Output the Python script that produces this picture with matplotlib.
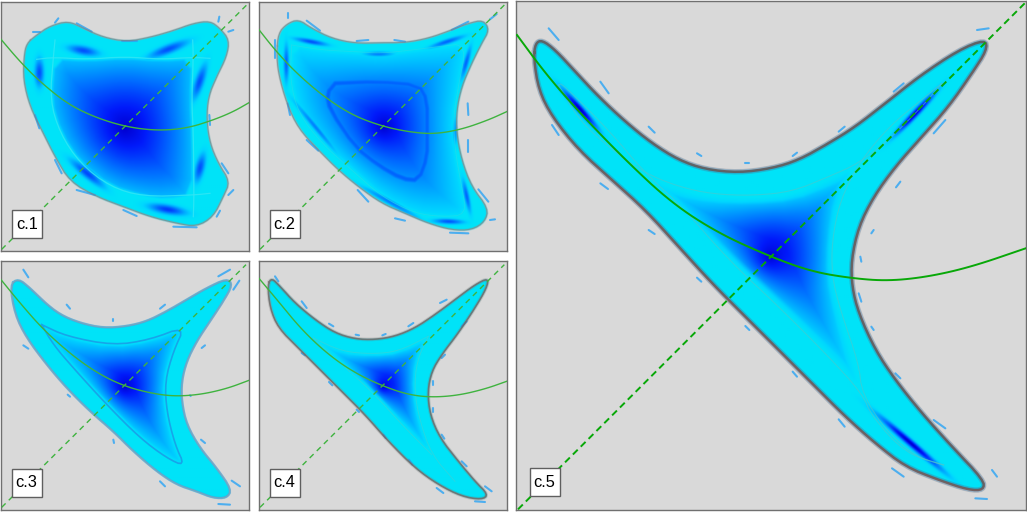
import numpy as np
import matplotlib
matplotlib.use("Agg")
import matplotlib.pyplot as plt
from matplotlib.colors import LinearSegmentedColormap
from matplotlib.path import Path
from matplotlib.patches import Rectangle

plt.rcParams['font.family'] = ['Liberation Sans', 'DejaVu Sans']

labels = ["c.1", "c.2", "c.3", "c.4", "c.5"]
hubs = [(375, 385), (385, 380), (375, 385), (385, 385), (775, 770)]

outline_1 = [(80,130),(110,105),(150,78),(205,63),(250,85),(310,112),(380,125),(450,112),(520,92),(580,70),(630,63),(660,85),(688,120),(680,170),(650,230),(625,290),(620,360),(630,430),(655,490),(690,545),(670,590),(640,650),(590,680),(530,670),(450,650),(370,620),(290,590),(210,545),(165,470),(130,400),(90,320),(70,240),(72,170)]
outline_2 = [(65,160),(70,100),(95,72),(130,58),(170,85),(230,115),(300,130),(380,128),(450,128),(520,115),(590,90),(640,70),(685,60),(703,90),(680,130),(650,190),(620,260),(605,330),(605,400),(620,480),(650,560),(700,625),(690,665),(650,690),(590,690),(520,670),(450,640),(380,610),(310,560),(250,510),(190,450),(130,385),(95,310),(70,220)]
outline_3 = [(30,80),(55,62),(90,90),(130,130),(180,170),(240,195),(310,210),(380,205),(440,190),(500,160),(560,125),(620,90),(680,62),(698,80),(670,130),(630,190),(590,250),(560,310),(545,370),(545,430),(560,500),(600,570),(650,630),(695,695),(680,720),(640,720),(590,700),(530,680),(470,640),(400,580),(340,520),(270,460),(200,390),(140,320),(80,240),(45,170)]
outline_4 = [(38,80),(50,60),(75,85),(120,135),(180,185),(240,225),(300,243),(360,245),(420,235),(480,210),(540,170),(600,125),(660,80),(700,60),(695,90),(660,150),(610,225),(560,290),(530,340),(518,400),(525,470),(555,540),(610,610),(660,670),(700,710),(680,725),(620,715),(550,680),(480,630),(400,550),(330,470),(260,400),(190,330),(130,270),(70,210),(45,150)]
outline_5 = [(65,175),(70,130),(90,120),(130,150),(190,215),(260,290),(340,365),(420,430),(500,480),(580,508),(680,518),(780,505),(860,480),(950,430),(1030,380),(1120,310),(1220,230),(1340,150),(1420,118),(1425,150),(1380,220),(1310,320),(1230,410),(1150,500),(1085,590),(1040,680),(1018,780),(1020,860),(1040,940),(1090,1050),(1150,1140),(1230,1240),(1320,1340),(1415,1440),(1415,1470),(1370,1470),(1280,1440),(1180,1400),(1090,1330),(1000,1250),(900,1150),(800,1050),(700,950),(600,850),(500,740),(400,630),(300,540),(200,450),(120,350),(80,270)]

inner_1 = [(160,172),(260,178),(375,170),(480,178),(580,172),(575,300),(580,400),(582,585),(500,600),(430,590),(330,560),(240,490),(180,400),(150,300)]
inner_2 = [(110,135),(200,150),(300,155),(380,160),(470,150),(550,140),(635,130),(610,260),(595,350),(600,450),(620,560),(635,645),(560,650),(480,640),(380,590),(290,510),(200,430),(130,340),(105,240)]
inner_3 = [(125,200),(200,235),(340,262),(450,245),(555,205),(520,280),(495,370),(500,460),(525,560),(555,625),(500,600),(420,540),(320,440),(220,330),(160,260)]
inner_4 = [(175,240),(260,280),(350,288),(430,280),(520,235),(485,310),(478,400),(495,490),(530,590),(450,510),(350,400),(260,320)]
inner_5 = [(400,530),(500,570),(600,590),(720,595),(840,585),(950,540),(1030,500),(985,600),(965,720),(962,830),(985,940),(1030,1100),(1045,1170),(950,1070),(800,920),(650,780),(510,640)]

ridge_1 = [[(110,178),(160,172),(260,178),(375,170),(480,178),(580,172),(630,175)],
           [(578,120),(580,172),(575,300),(580,400),(582,585),(580,650)],
           [(165,120),(160,172),(150,300),(180,400),(240,490),(330,560),(430,590),(582,585),(630,580)]]
ridge_2 = [[(110,135),(200,150),(300,155),(380,160),(470,150),(550,140),(635,130),(610,260),(595,350),(600,450),(620,560),(635,645),(560,650),(480,640),(380,590),(290,510),(200,430),(130,340),(105,240),(110,135)]]
ridge_3 = [[(125,200),(200,235),(340,262),(450,245),(555,205),(520,280),(495,370),(500,460),(525,560),(555,625),(500,600),(420,540),(320,440),(220,330),(160,260),(125,200)]]
ridge_4 = [[(175,240),(260,280),(350,288),(430,280),(520,235)],
           [(520,235),(485,310),(478,400),(495,490),(530,590),(600,670)],
           [(175,240),(260,320),(350,400),(450,510),(530,590)]]
ridge_5 = [[(140,255),(200,360),(300,450),(400,520),(500,560),(600,582),(720,587),(840,575),(950,530),(1040,490),(1130,420),(1230,320),(1290,250)],
           [(1290,250),(1240,290),(1130,380),(1040,490),(985,600),(960,720),(960,830),(985,930),(1040,1090),(1050,1180),(1120,1290),(1210,1370),(1295,1395)],
           [(1295,1395),(1180,1360),(1080,1250),(1050,1180),(950,1070),(800,920),(650,780),(510,620),(400,520),(290,390),(150,250),(140,255)]]

middle_2 = [(240,250),(365,245),(490,255),(515,300),(515,400),(515,470),(490,540),(440,535),(370,495),(300,440),(225,330),(215,280),(240,250)]

# Dark streaks: start x, start y, end x, end y, peak level
streak_1 = [(215,145,285,158,.62),(460,165,550,130,.62),(118,185,118,250,.62),(612,205,585,285,.62),(608,470,592,535,.62),(225,490,300,550,.65),(460,620,545,635,.7)]
streak_2 = [(130,118,205,132,.62),(335,162,405,162,.45),(535,138,615,112,.55),(643,150,622,225,.55),(600,360,600,425,.35),(626,550,642,625,.55),(545,662,615,665,.6),(340,570,470,642,.45),(130,320,230,440,.45),(93,145,93,235,.55)]
streak_3 = []
streak_4 = []
streak_5 = [(165,285,245,375,1.0),(1165,390,1255,295,1.0),(1125,1270,1265,1390,1.0)]

flecks_1 = [(175,55,165,68),(100,95,120,95),(230,70,275,95),(365,122,410,122),(658,50,655,65),(685,95,700,90),(105,345,118,385),(165,480,185,520),(230,570,285,585),(370,630,410,648),(628,345,630,375),(665,490,685,520),(700,570,685,585),(660,632,650,650),(520,680,590,682)]
flecks_2 = [(100,40,100,55),(155,62,195,92),(305,123,340,120),(418,120,450,125),(590,90,640,65),(60,120,60,175),(98,310,105,345),(155,420,190,452),(308,570,340,605),(420,655,450,662),(585,698,640,700),(638,310,640,345),(638,420,638,455),(670,568,700,605),(705,660,720,658),(705,58,725,42)]
flecks_3 = [(70,35,85,58),(200,140,210,152),(340,183,340,188),(480,152,495,140),(655,55,690,35),(700,95,718,68),(605,270,615,262),(70,262,85,272),(203,410,210,416),(340,545,342,555),(480,670,495,685),(603,545,615,555),(570,412,572,414),(695,668,720,685),(655,738,690,740)]
flecks_4 = [(60,55,70,70),(140,130,155,150),(222,197,235,205),(302,230,312,232),(382,232,392,228),(460,205,475,195),(555,135,575,125),(620,205,635,190),(560,300,570,290),(533,370,533,382),(533,450,533,462),(560,530,568,542),(620,610,635,625),(690,685,710,700),(150,292,140,285),(222,372,232,382),(305,455,312,462),(385,530,392,540),(462,605,472,620),(545,690,565,705),(660,730,690,732)]
flecks_5 = [(110,85,140,120),(265,245,290,280),(410,380,428,398),(555,460,568,468),(700,488,712,488),(842,468,855,458),(980,395,998,380),(1145,275,1175,250),(1395,90,1430,85),(120,375,140,405),(265,550,288,567),(410,690,428,702),(555,833,568,845),(700,978,712,990),(842,1115,855,1130),(980,1258,998,1280),(1140,1405,1175,1430),(1440,1410,1455,1430),(1390,1495,1425,1497),(1152,562,1165,545),(1078,700,1085,690),(1045,770,1048,785),(1040,880,1048,905),(1078,980,1085,990),(1150,1120,1165,1135),(1265,1260,1300,1285),(1265,400,1300,360)]

curve_1 = [(3,118),(60,185),(120,245),(200,310),(280,350),(375,380),(470,392),(560,385),(640,360),(700,335),(747,308)]
curve_2 = [(11,88),(60,150),(120,215),(200,285),(290,345),(385,380),(470,397),(540,402),(620,388),(700,360),(755,335)]
curve_3 = [(3,65),(60,135),(130,215),(220,295),(300,350),(375,385),(450,405),(520,415),(600,410),(680,392),(747,367)]
curve_4 = [(11,60),(70,130),(140,215),(220,290),(300,345),(385,385),(460,410),(530,418),(610,412),(690,393),(755,370)]
curve_5 = [(15,105),(100,220),(200,335),(340,480),(480,610),(620,700),(775,770),(900,815),(1020,835),(1130,843),(1250,830),(1380,800),(1541,745)]

diagonal_1 = [(5,748),(740,15)]
diagonal_2 = [(15,748),(748,15)]
diagonal_3 = [(5,748),(738,20)]
diagonal_4 = [(15,748),(748,20)]
diagonal_5 = [(18,1528),(1538,10)]

# Layout and style of each panel (crop origin, frame, label box, look).
P = [
 dict(o=(0,0), f=(3,747,6,752), box=(35,630,125,713), out=outline_1, inn=inner_1, rid=ridge_1, st=streak_1, fl=flecks_1, cur=curve_1, dia=diagonal_1,
      edge=.2, k=.7, pw=1.0, sw=14, rc='#35e6f4', rw=.9, ra=.8, ec='#7d7d7d', el=.8, ea=.6, glow=0, big=False),
 dict(o=(255,0), f=(11,755,6,752), box=(44,630,134,715), out=outline_2, inn=inner_2, rid=ridge_2, st=streak_2, fl=flecks_2, cur=curve_2, dia=diagonal_2,
      edge=.1, k=.9, pw=1.1, sw=8, rc='#2ad8e8', rw=.6, ra=.6, ec='#7d7d7d', el=.8, ea=.6, glow=0, big=False),
 dict(o=(0,258), f=(3,747,10,755), box=(35,632,125,716), out=outline_3, inn=inner_3, rid=ridge_3, st=streak_3, fl=flecks_3, cur=curve_3, dia=diagonal_3,
      edge=.08, k=.7, pw=.95, sw=8, rc='#1c96e6', rw=1.2, ra=.8, ec='#a39a9c', el=.8, ea=.45, glow=.6, big=False),
 dict(o=(255,258), f=(11,755,10,755), box=(44,632,134,716), out=outline_4, inn=inner_4, rid=ridge_4, st=streak_4, fl=flecks_4, cur=curve_4, dia=diagonal_4,
      edge=.05, k=.65, pw=.95, sw=8, rc='#45cfd2', rw=.7, ra=.55, ec='#6f6462', el=1.2, ea=.8, glow=0, big=False),
 dict(o=(512,0), f=(13,1541,3,1531), box=(53,1404,143,1488), out=outline_5, inn=inner_5, rid=ridge_5, st=streak_5, fl=flecks_5, cur=curve_5, dia=diagonal_5,
      edge=.05, k=.65, pw=.95, sw=10, rc='#4cc8cc', rw=.8, ra=.6, ec='#6b4f4b', el=1.8, ea=.8, glow=.3, big=True),
]

cmap = LinearSegmentedColormap.from_list("dens", [(0,(0,.90,.97)),(.12,(0,.84,1)),(.3,(0,.66,1)),(.55,(0,.40,1)),(.82,(0,.10,.98)),(1,(0,0,.82))])


def chaikin(pts, closed, n=2):
    a = np.asarray(pts, float)
    for _ in range(n):
        if closed:
            b = np.roll(a, -1, axis=0)
            a = np.stack([.75*a+.25*b, .25*a+.75*b], 1).reshape(-1, 2)
        else:
            q = .75*a[:-1]+.25*a[1:]
            r = .25*a[:-1]+.75*a[1:]
            a = np.vstack([a[0], np.stack([q, r], 1).reshape(-1, 2), a[-1]])
    return a


def dist(X, Y, poly):
    a = poly
    b = np.roll(poly, -1, axis=0)
    d2 = np.full(X.shape, np.inf)
    for p, q in zip(a, b):
        e = q-p
        t = np.clip(((X-p[0])*e[0]+(Y-p[1])*e[1])/max(e @ e, 1e-9), 0, 1)
        d2 = np.minimum(d2, (X-p[0]-t*e[0])**2+(Y-p[1]-t*e[1])**2)
    return np.sqrt(d2)


def signed(X, Y, poly):
    d = dist(X, Y, poly)
    ins = Path(poly).contains_points(np.c_[X.ravel(), Y.ravel()]).reshape(X.shape)
    return np.where(ins, d, -d)


fig = plt.figure(figsize=(10.27, 5.14), dpi=100, facecolor='white')
W, H = 1027, 514

for i, p in enumerate(P):
    x0, x1, y0, y1 = p['f']
    ox, oy = p['o']
    ax = fig.add_axes([(ox+x0/3)/W, 1-(oy+y1/3)/H, (x1-x0)/3/W, (y1-y0)/3/H])
    ax.set_facecolor('#d9d9d9')

    step = 2.0
    gx = np.arange(x0, x1+step, step)
    gy = np.arange(y0, y1+step, step)
    X, Y = np.meshgrid(gx, gy)
    outl = chaikin(p['out'], True)
    inn = chaikin(p['inn'], True, 1)
    s_out = signed(X, Y, outl)
    s_in = signed(X, Y, inn)
    hx, hy = hubs[i]
    r = np.hypot(X-hx, Y-hy)
    d = np.clip(s_in, 0, None)
    v = np.where(s_in > 0, p['edge']+(1-p['edge'])*(d/(d+p['k']*r+1e-6))**p['pw'], 0.02)
    # the inner rim fades into the band instead of stepping
    v = np.where(s_in > 0, .02+(v-.02)*np.clip(s_in/(10 if not p['big'] else 24), 0, 1)**.7, v)
    for sx0, sy0, sx1, sy1, amp in p['st']:
        mx, my = (sx0+sx1)/2, (sy0+sy1)/2
        L = max(np.hypot(sx1-sx0, sy1-sy0)/2, 1)
        ux, uy = (sx1-sx0)/(2*L), (sy1-sy0)/(2*L)
        u = (X-mx)*ux+(Y-my)*uy
        t = -(X-mx)*uy+(Y-my)*ux
        v = np.maximum(v, amp*np.exp(-(u/(1.3*L))**2-(t/p['sw'])**2))
    if i == 1:
        dm = dist(X, Y, chaikin(middle_2, True, 1))
        v = np.maximum(v, .56*np.exp(-(dm/14)**2))
    soft = 4.5 if not p['big'] else 3.0
    alpha = np.clip((s_out+soft)/(2*soft), 0, 1)
    rgba = cmap(np.clip(v, 0, 1))
    rgba[..., 3] = alpha*alpha*(3-2*alpha)
    ax.imshow(rgba, extent=(gx[0]-step/2, gx[-1]+step/2, gy[-1]+step/2, gy[0]-step/2),
              interpolation='bilinear', aspect='auto', zorder=1)

    for seg in p['rid']:
        c = chaikin(seg, False, 2)
        ax.plot(c[:, 0], c[:, 1], color=p['rc'], lw=p['rw'], alpha=p['ra'], zorder=2)

    ring = np.vstack([outl, outl[:1]])
    if p['glow']:
        ax.plot(ring[:, 0], ring[:, 1], color='#2a9ff0', lw=1.6 if not p['big'] else 3.4, alpha=p['glow'], zorder=3)
    ax.plot(ring[:, 0], ring[:, 1], color=p['ec'], lw=p['el']*2.2, alpha=.2, zorder=3)
    ax.plot(ring[:, 0], ring[:, 1], color=p['ec'], lw=p['el'], alpha=p['ea'], zorder=3)

    for a0, b0, a1, b1 in p['fl']:
        ax.plot([a0, a1], [b0, b1], color='#2aa4f5', lw=1.5, alpha=.8, solid_capstyle='round', zorder=2)

    g = '#08a808' if p['big'] else '#3fb33f'
    lw = 1.4 if p['big'] else 1.0
    cur = chaikin(p['cur'], False, 3)
    ax.plot(cur[:, 0], cur[:, 1], color=g, lw=lw, zorder=4)
    dx, dy = zip(*p['dia'])
    ax.plot(dx, dy, color=g, lw=lw, dashes=(3.5, 2.2) if p['big'] else (4, 3.2), zorder=4)

    bx0, by0, bx1, by1 = p['box']
    ax.add_patch(Rectangle((bx0, by0), bx1-bx0, by1-by0, fc='white', ec='#5f5f5f', lw=1.0, zorder=5))
    ax.text((bx0+bx1)/2, (by0+by1)/2+1, labels[i], ha='center', va='center', fontsize=11.8, color='black', zorder=6)

    ax.set_xlim(x0, x1)
    ax.set_ylim(y1, y0)
    ax.set_xticks([])
    ax.set_yticks([])
    for sp in ax.spines.values():
        sp.set_color('#707070')
        sp.set_linewidth(1.0)

fig.savefig("out.png", dpi=100, facecolor='white')
